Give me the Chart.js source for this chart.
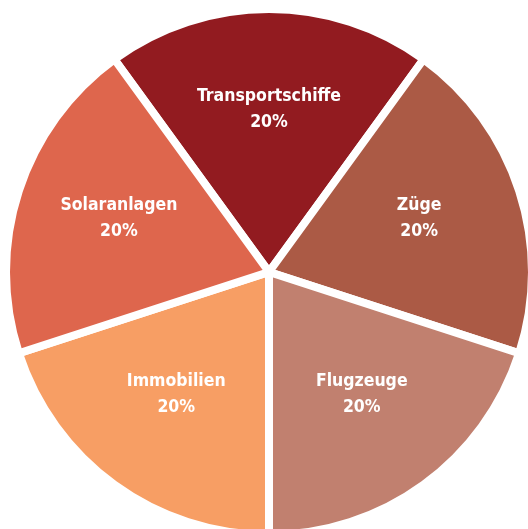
<!DOCTYPE html>
<html>
<head>
<meta charset="utf-8">
<script src="https://cdn.jsdelivr.net/npm/chart.js@4/dist/chart.umd.min.js"></script>
<style>
html, body { margin:0; padding:0; overflow:hidden; background:#fff; width:528px; height:529px; }
#wrap { position:absolute; left:5px; top:8px; width:528px; height:528px; }
</style>
</head>
<body>
<div id="wrap"><canvas id="c"></canvas></div>
<script>
const categories = ["Transportschiffe", "Züge", "Flugzeuge", "Immobilien", "Solaranlagen"];
const values = [20, 20, 20, 20, 20];
const colors = ["#921B20", "#AB5A45", "#C1806F", "#F79E64", "#DE664D"];

const labelPlugin = {
  id: 'sliceLabels',
  afterDatasetsDraw(chart) {
    const ctx = chart.ctx;
    const meta = chart.getDatasetMeta(0);
    const total = values.reduce((a, b) => a + b, 0);
    ctx.save();
    ctx.fillStyle = '#ffffff';
    ctx.textAlign = 'center';
    ctx.textBaseline = 'middle';
    ctx.font = 'bold 17.5px "DejaVu Sans Condensed", "DejaVu Sans", sans-serif';
    meta.data.forEach((arc, i) => {
      const p = arc.getProps(['x', 'y', 'startAngle', 'endAngle', 'outerRadius'], true);
      const mid = (p.startAngle + p.endAngle) / 2;
      const r = p.outerRadius * 0.6;
      const x = p.x + Math.cos(mid) * r;
      const y = p.y + Math.sin(mid) * r;
      const pct = Math.round(values[i] / total * 100) + '%';
      ctx.fillText(categories[i], x, y - 18);
      ctx.fillText(pct, x, y + 8);
    });
    ctx.restore();
  }
};

new Chart(document.getElementById('c'), {
  type: 'pie',
  data: {
    labels: categories,
    datasets: [{
      data: values,
      backgroundColor: colors,
      borderColor: '#ffffff',
      borderWidth: 8
    }]
  },
  options: {
    responsive: true,
    maintainAspectRatio: false,
    devicePixelRatio: 1,
    animation: false,
    rotation: -36,
    radius: 263,
    layout: { padding: 0 },
    plugins: { legend: { display: false }, tooltip: { enabled: false } }
  },
  plugins: [labelPlugin]
});
</script>
</body>
</html>
